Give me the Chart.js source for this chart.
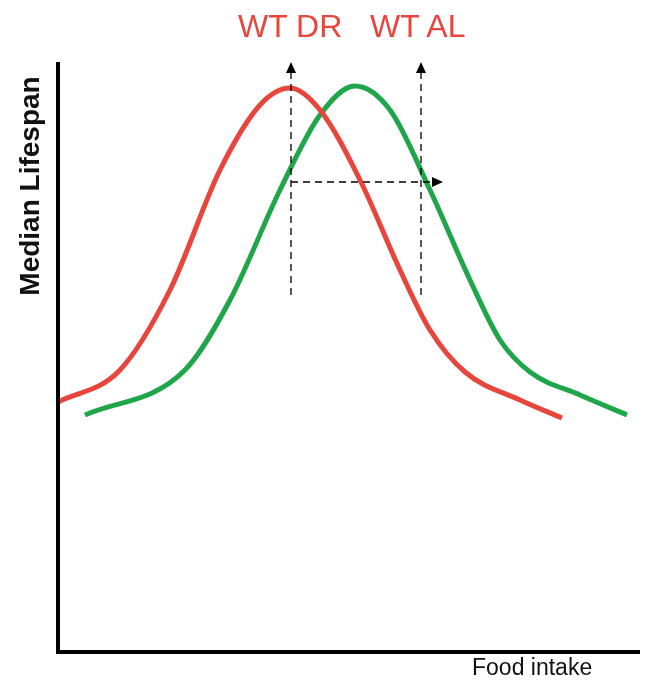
<!DOCTYPE html>
<html>
<head>
<meta charset="utf-8">
<script src="https://cdn.jsdelivr.net/npm/chart.js@4"></script>
<style>
  body { margin: 0; background: #fff; }
  #wrap { position: relative; width: 646px; height: 686px; }
  .lbl { position: absolute; font-family: "Liberation Sans", Arial, sans-serif; white-space: nowrap; }
</style>
</head>
<body>
<div id="wrap">
  <canvas id="chart" width="646" height="686"></canvas>
  <div class="lbl" style="left:238px;top:8px;font-size:32px;color:#e8453c;">WT DR</div>
  <div class="lbl" style="left:370px;top:8px;font-size:32px;color:#e8453c;">WT AL</div>
  <div class="lbl" style="left:472px;top:654px;font-size:23px;color:#111;">Food intake</div>
  <div class="lbl" style="left:-100px;top:170px;width:260px;text-align:center;font-size:28px;font-weight:bold;transform:rotate(-90deg);color:#111;">Median Lifespan</div>
</div>
<script>
// =======================================
// DATA (food intake vs lifespan, arbitrary units)
// =======================================
const drX = [0, 62, 112, 162, 202, 232, 262, 302, 342, 372, 407, 462, 504];
const drY = [250, 282, 362, 482, 547, 564, 542, 472, 382, 322, 280, 252, 234];
const alX = [27, 127, 172, 222, 262, 297, 332, 372, 412, 442, 472, 522, 569];
const alY = [237, 282, 352, 462, 537, 566, 542, 462, 372, 312, 280, 257, 237];
const drMark = 233;   // WT DR intake
const alMark = 363;   // WT AL intake
const arrowLow = 357, arrowHigh = 582, arrowMid = 470, arrowEnd = 377;

const toPts = (xs, ys) => xs.map((x, i) => ({ x: x, y: ys[i] }));

// =======================================
// Axes + dashed arrows plugin
// =======================================
const decor = {
  id: "decor",
  afterDatasetsDraw(chart) {
    const { ctx, chartArea: a, scales: { x, y } } = chart;
    ctx.save();
    ctx.strokeStyle = "#000";
    ctx.lineWidth = 4;
    ctx.beginPath();
    ctx.moveTo(a.left, y.getPixelForValue(590));
    ctx.lineTo(a.left, a.bottom);
    ctx.lineTo(a.right, a.bottom);
    ctx.stroke();

    function head(px, py, dir) {
      ctx.beginPath();
      if (dir === "up") {
        ctx.moveTo(px, py - 8); ctx.lineTo(px - 5, py + 3); ctx.lineTo(px + 5, py + 3);
      } else {
        ctx.moveTo(px + 8, py); ctx.lineTo(px - 3, py - 5); ctx.lineTo(px - 3, py + 5);
      }
      ctx.closePath();
      ctx.fill();
    }
    ctx.lineWidth = 1.3;
    ctx.setLineDash([7, 5]);
    ctx.fillStyle = "#000";
    [drMark, alMark].forEach((m) => {
      const px = x.getPixelForValue(m);
      ctx.beginPath();
      ctx.moveTo(px, y.getPixelForValue(arrowLow));
      ctx.lineTo(px, y.getPixelForValue(arrowHigh));
      ctx.stroke();
    });
    const my = y.getPixelForValue(arrowMid);
    ctx.beginPath();
    ctx.moveTo(x.getPixelForValue(drMark), my);
    ctx.lineTo(x.getPixelForValue(arrowEnd), my);
    ctx.stroke();
    ctx.setLineDash([]);
    head(x.getPixelForValue(drMark), y.getPixelForValue(arrowHigh), "up");
    head(x.getPixelForValue(alMark), y.getPixelForValue(arrowHigh), "up");
    head(x.getPixelForValue(arrowEnd), my, "right");
    ctx.restore();
  },
};

new Chart(document.getElementById("chart"), {
  type: "line",
  data: {
    datasets: [
      { data: toPts(drX, drY), borderColor: "#e8453c", borderWidth: 5, pointRadius: 0, tension: 0.4, cubicInterpolationMode: "monotone" },
      { data: toPts(alX, alY), borderColor: "#1fa64a", borderWidth: 5, pointRadius: 0, tension: 0.4, cubicInterpolationMode: "monotone" },
    ],
  },
  options: {
    responsive: false,
    animation: false,
    layout: { padding: { left: 58, right: 6, top: 0, bottom: 34 } },
    plugins: { legend: { display: false }, tooltip: { enabled: false } },
    scales: {
      x: { type: "linear", min: 0, max: 582, display: false },
      y: { min: 0, max: 652, display: false },
    },
  },
  plugins: [decor],
});
</script>
</body>
</html>
